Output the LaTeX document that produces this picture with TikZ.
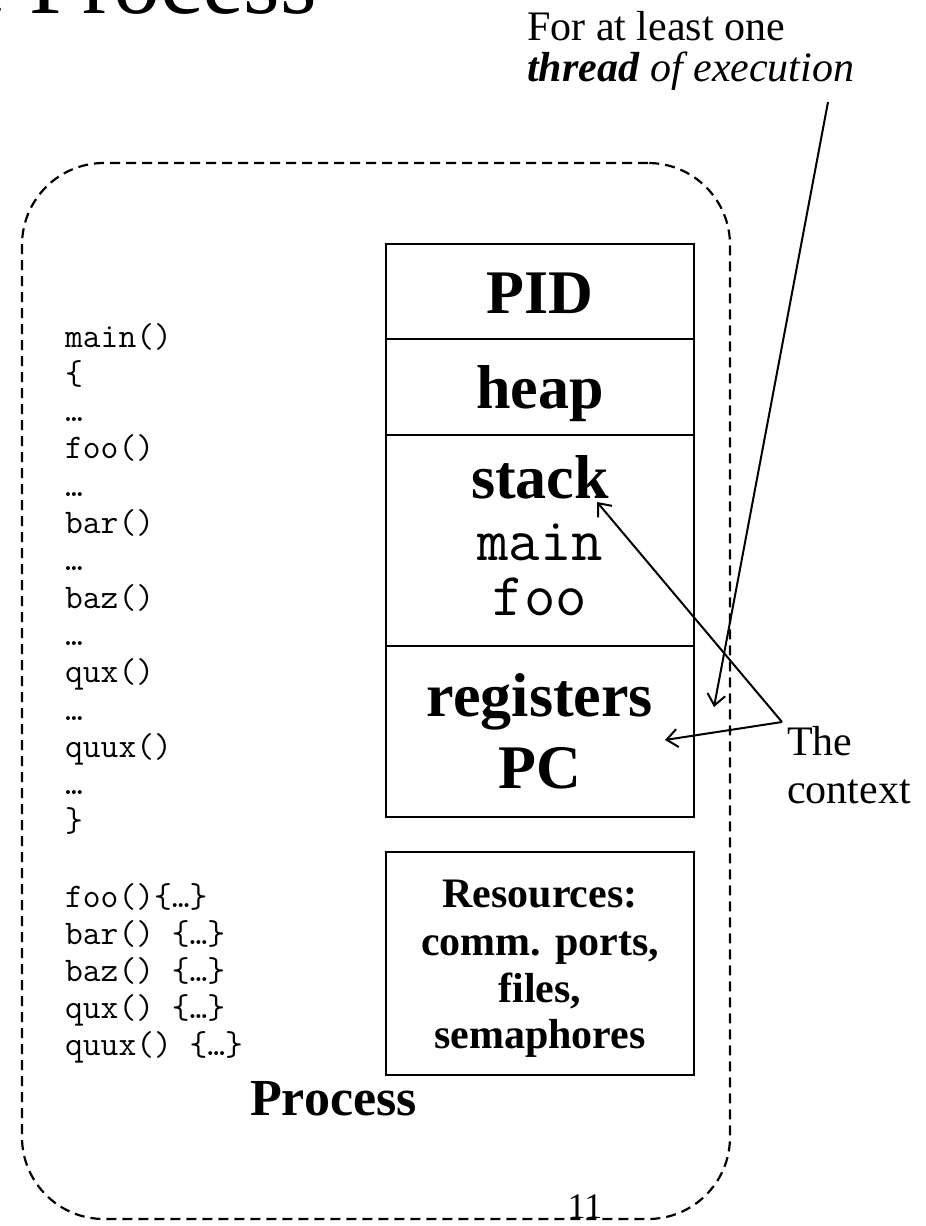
\documentclass[tikz,border=0pt]{standalone}
\usepackage{fontspec}
\setmainfont{Liberation Serif}
\usetikzlibrary{arrows.meta}
\newcommand\setfs[1]{\fontsize{#1}{#1}\selectfont}

\begin{document}
\begin{tikzpicture}[x=1pt, y=-1pt,
  cell/.style={draw, line width=2.6pt, minimum width=308pt, inner sep=0pt, outer sep=0pt},
  proc/.style={draw, line width=2.2pt, dash pattern=on 10pt off 6pt, rounded corners=82pt,
               inner sep=0pt, outer sep=0pt},
  big/.style={font=\bfseries\setfs{62}, anchor=base, inner sep=0pt},
  stackcode/.style={font=\ttfamily\setfs{61}, anchor=base, inner sep=0pt},
  res/.style={font=\bfseries\setfs{42}, anchor=base, inner sep=0pt},
  codeline/.style={font=\ttfamily\setfs{34.5}, anchor=base west, inner sep=0pt},
  note/.style={font=\setfs{42}, anchor=base west, inner sep=0pt},
  ptr/.style={line width=2pt, -{Straight Barb[length=11pt, width=18pt, line width=2pt]}}]

\useasboundingbox (0,0) rectangle (926,1226);

% slide title, running off the top and left edges
\begin{scope}
  \clip (0,0) rectangle (926,1226);
  \node[font=\setfs{94}, anchor=base west, inner sep=0pt] (title) at (-140,13) {The Process};
\end{scope}

% process boundary
\node[proc, minimum width=708pt, minimum height=1056pt] (proc) at (376,691) {};

% process control block compartments
\node[cell, minimum height=95pt]  (pid)  at (540,291.5) {};
\node[cell, minimum height=96pt]  (heap) at (540,387)   {};
\node[cell, minimum height=211pt] (stk)  at (540,540.5) {};
\node[cell, minimum height=171pt] (regs) at (540,731.5) {};
\node[cell, minimum height=223pt] (rsrc) at (540,963.5) {};

\node[big] (pidtxt)  at (540,313) {PID};
\node[big] (heaptxt) at (540,408) {heap};
\node[big] (stktxt)  at (540,498) {stack};
\node[stackcode] (stkmain) at (540,560) {main};
\node[stackcode] (stkfoo)  at (540,615) {foo};
\node[big] (regtxt) at (540,716) {registers};
\node[big] (pctxt)  at (540,788) {PC};

\node[res] (res1) at (540,907)  {Resources:};
\node[res] (res2) at (540,955)  {comm. ports,};
\node[res] (res3) at (540,1002) {files,};
\node[res] (res4) at (540,1048) {semaphores};

% program text
\foreach \t [count=\i from 0] in {main(), \{, …, foo(), …, bar(), …, baz(), …, qux(), …, quux(), …, \}}
  \node[codeline] (main\i) at (65,347+37.3*\i) {\t};

\foreach \t [count=\i from 0] in {foo()\{…\}, bar() \{…\}, baz() \{…\}, qux() \{…\}, quux() \{…\}}
  \node[codeline] (defs\i) at (65,907+37*\i) {\t};

\node[font=\bfseries\setfs{52}, anchor=base west, inner sep=0pt] (proclabel) at (250,1115) {Process};

% page number
\node[font=\setfs{36}, anchor=base, inner sep=0pt] (pageno) at (585,1218) {11};

% thread note
\node[note] (note1) at (527,40) {For at least one};
\node[note] (note2) at (527,81) {\textbf{\textit{thread}} \textit{of execution}};
\coordinate (thrtail) at (828,102);
\coordinate (thrtip)  at (714,707);
\draw[ptr] (thrtail) -- (thrtip);

% context note
\node[note] (ctx1) at (787,755) {The};
\node[note] (ctx2) at (787,803) {context};
\coordinate (ctxtail)  at (782,722);
\coordinate (stacktip) at (597,502);
\coordinate (pctip)    at (665,740);
\draw[ptr] (ctxtail) -- (stacktip);
\draw[ptr] (ctxtail) -- (pctip);

\end{tikzpicture}
\end{document}
